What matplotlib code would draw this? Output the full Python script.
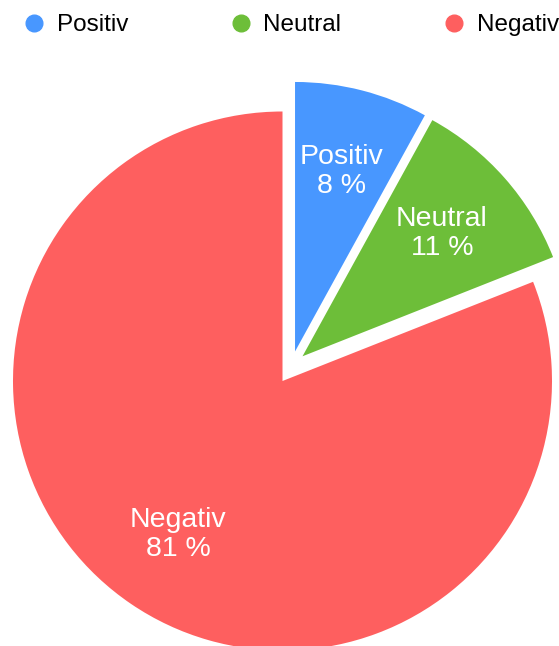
import numpy as np
import matplotlib
matplotlib.use("Agg")
import matplotlib.pyplot as plt
from matplotlib.lines import Line2D

plt.rcParams["font.family"] = ["Liberation Sans", "DejaVu Sans"]

labels = ["Positiv", "Neutral", "Negativ"]
values = [8, 11, 81]
colors = ["#4897ff", "#6dbe39", "#fe5f5f"]

# slice pull-out (in radius units) and its direction, degrees clockwise from 12 o'clock
pull = [0.119, 0.118, 0.0]
pull_dir = [23, 39, 0]

# where the pie sits in the 559x646 picture (pixels from left / top)
W, H = 559, 646
cx_px, cy_px, r_px = 282.5, 381, 269.5

fig = plt.figure(figsize=(W / 100, H / 100), dpi=100)
ax = fig.add_axes([0, 0, 1, 1])

wedges, _ = ax.pie(values, colors=colors, startangle=90, counterclock=False,
                   radius=1, wedgeprops=dict(linewidth=0))

for w, d, a in zip(wedges, pull, pull_dir):
    t = np.deg2rad(a)
    w.set_center((d * np.sin(t), d * np.cos(t)))

for w, lab, v in zip(wedges, labels, values):
    mid = np.deg2rad((w.theta1 + w.theta2) / 2)
    x0, y0 = w.center
    ax.text(x0 + 0.69 * np.cos(mid), y0 + 0.69 * np.sin(mid), f"{lab}\n{v} %",
            ha="center", va="center", color="white", fontsize=20.5, linespacing=1.15)

ax.set_aspect("auto")
ax.set_xlim(-cx_px / r_px, (W - cx_px) / r_px)
ax.set_ylim(-(H - cy_px) / r_px, cy_px / r_px)
ax.axis("off")

handles = [Line2D([], [], marker="o", linestyle="none", markersize=12,
                  markerfacecolor=c, markeredgecolor=c) for c in colors]
fig.legend(handles, labels, loc="center left", bbox_to_anchor=(22 / W, 1 - 25 / H),
           ncol=3, frameon=False, fontsize=17.5, handlelength=1.0, handletextpad=0.42,
           columnspacing=4.15, borderpad=0, borderaxespad=0)

fig.savefig("out.png", dpi=100)
